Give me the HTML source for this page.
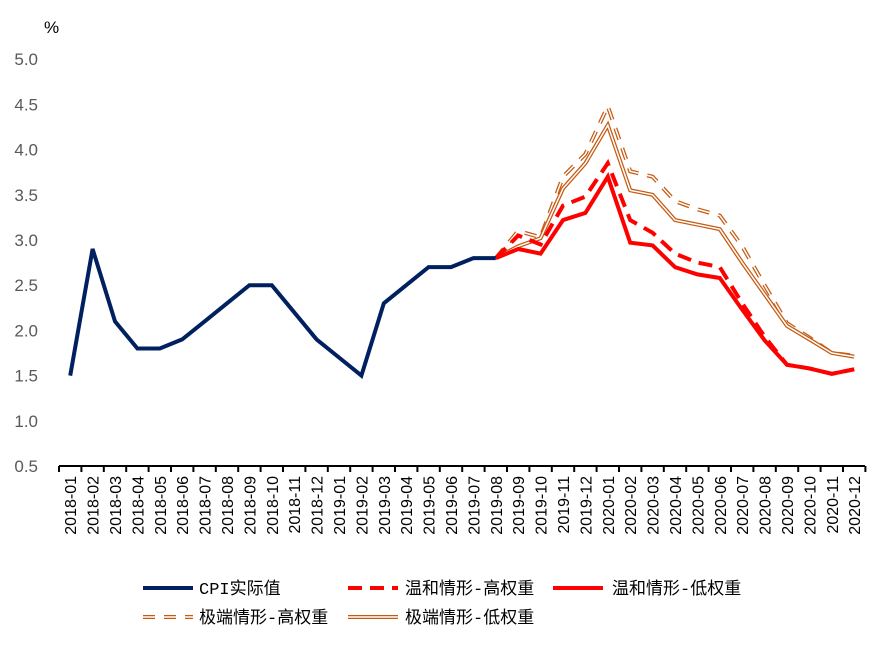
<!DOCTYPE html>
<html><head><meta charset="utf-8"><style>body{margin:0;background:#fff}</style></head><body>
<svg width="889" height="642" xmlns="http://www.w3.org/2000/svg" font-family="Liberation Sans, Noto Sans CJK SC, sans-serif">
<rect width="889" height="642" fill="#fff"/>
<text x="44" y="33" font-size="17" fill="#000">%</text>
<g id="yl" font-size="17" fill="#595959" text-anchor="end"></g>
<g id="xl" font-size="16" fill="#000"></g>
<g id="ax" stroke="#000" stroke-width="2"></g>
<g id="series" fill="none" stroke-linejoin="miter"></g>
<g font-size="17" fill="#000" font-family="Liberation Mono, Noto Sans CJK SC, monospace">
<line x1="143" y1="588" x2="193" y2="588" stroke="#002060" stroke-width="4"/>
<text x="199" y="594">CPI实际值</text>
<line x1="348" y1="588" x2="398" y2="588" stroke="#ff0000" stroke-width="4" stroke-dasharray="14,8"/>
<text x="405" y="594">温和情形-高权重</text>
<line x1="553" y1="588" x2="603" y2="588" stroke="#ff0000" stroke-width="4"/>
<text x="612" y="594">温和情形-低权重</text>
<line x1="143" y1="617" x2="193" y2="617" stroke="#c55a11" stroke-width="4" stroke-dasharray="12,9"/>
<line x1="143" y1="617" x2="193" y2="617" stroke="#fff" stroke-width="1.5" stroke-dasharray="12,9"/>
<text x="199" y="623">极端情形-高权重</text>
<line x1="348" y1="617" x2="398" y2="617" stroke="#c55a11" stroke-width="4"/>
<line x1="348" y1="617" x2="398" y2="617" stroke="#fff" stroke-width="1.5"/>
<text x="405" y="623">极端情形-低权重</text>
</g>
<script>
var ns="http://www.w3.org/2000/svg";
function Y(v){return 466-(v-0.5)*90.4}
function X(i){return 70.2+22.4*i}
var yl=document.getElementById('yl');
for(var k=0;k<=9;k++){var v=0.5+k*0.5;var t=document.createElementNS(ns,'text');t.setAttribute('x',38);t.setAttribute('y',Y(v)+6);t.textContent=v.toFixed(1);yl.appendChild(t);}
var ax=document.getElementById('ax');
function ln(a,b,c,d){var l=document.createElementNS(ns,'line');l.setAttribute('x1',a);l.setAttribute('y1',b);l.setAttribute('x2',c);l.setAttribute('y2',d);ax.appendChild(l);}
ln(59,466,865,466);
for(var k=0;k<=36;k++){var x=59+22.4*k;ln(x,466,x,472);}
var xl=document.getElementById('xl');
var labs=[];for(var y=2018;y<=2020;y++)for(var m=1;m<=12;m++)labs.push(y+'-'+(m<10?'0':'')+m);
labs.forEach(function(s,i){var t=document.createElementNS(ns,'text');var x=X(i)+6;t.setAttribute('transform','translate('+x+',476) rotate(-90)');t.setAttribute('text-anchor','end');t.textContent=s;xl.appendChild(t);});
var g=document.getElementById('series');
function path(start,data,color,w,dash){var d='';data.forEach(function(v,i){d+=(i?'L':'M')+X(start+i).toFixed(1)+','+Y(v).toFixed(1)});var p=document.createElementNS(ns,'path');p.setAttribute('d',d);p.setAttribute('stroke',color);p.setAttribute('stroke-width',w);if(dash)p.setAttribute('stroke-dasharray',dash);g.appendChild(p);}
var eh=[2.8,3.1,3.03,3.7,3.95,4.48,3.76,3.7,3.43,3.34,3.27,2.93,2.5,2.08,1.92,1.75,1.72];
var el=[2.8,2.93,3.02,3.57,3.85,4.27,3.55,3.5,3.22,3.17,3.12,2.75,2.4,2.05,1.9,1.75,1.71];
path(19,eh,'#c55a11',4,'12,9');path(19,eh,'#fff',1.5,'12,9');
path(19,el,'#c55a11',4);path(19,el,'#fff',1.5);
path(19,[2.8,3.05,2.95,3.38,3.48,3.85,3.22,3.08,2.85,2.75,2.7,2.3,1.93,1.62,1.58,1.52,1.57],'#ff0000',4,'14,8');
path(19,[2.8,2.9,2.85,3.22,3.3,3.7,2.97,2.94,2.7,2.62,2.58,2.23,1.89,1.62,1.58,1.52,1.57],'#ff0000',4);
path(0,[1.5,2.9,2.1,1.8,1.8,1.9,2.1,2.3,2.5,2.5,2.2,1.9,1.7,1.5,2.3,2.5,2.7,2.7,2.8,2.8],'#002060',4);
</script>
</svg>
</body></html>
